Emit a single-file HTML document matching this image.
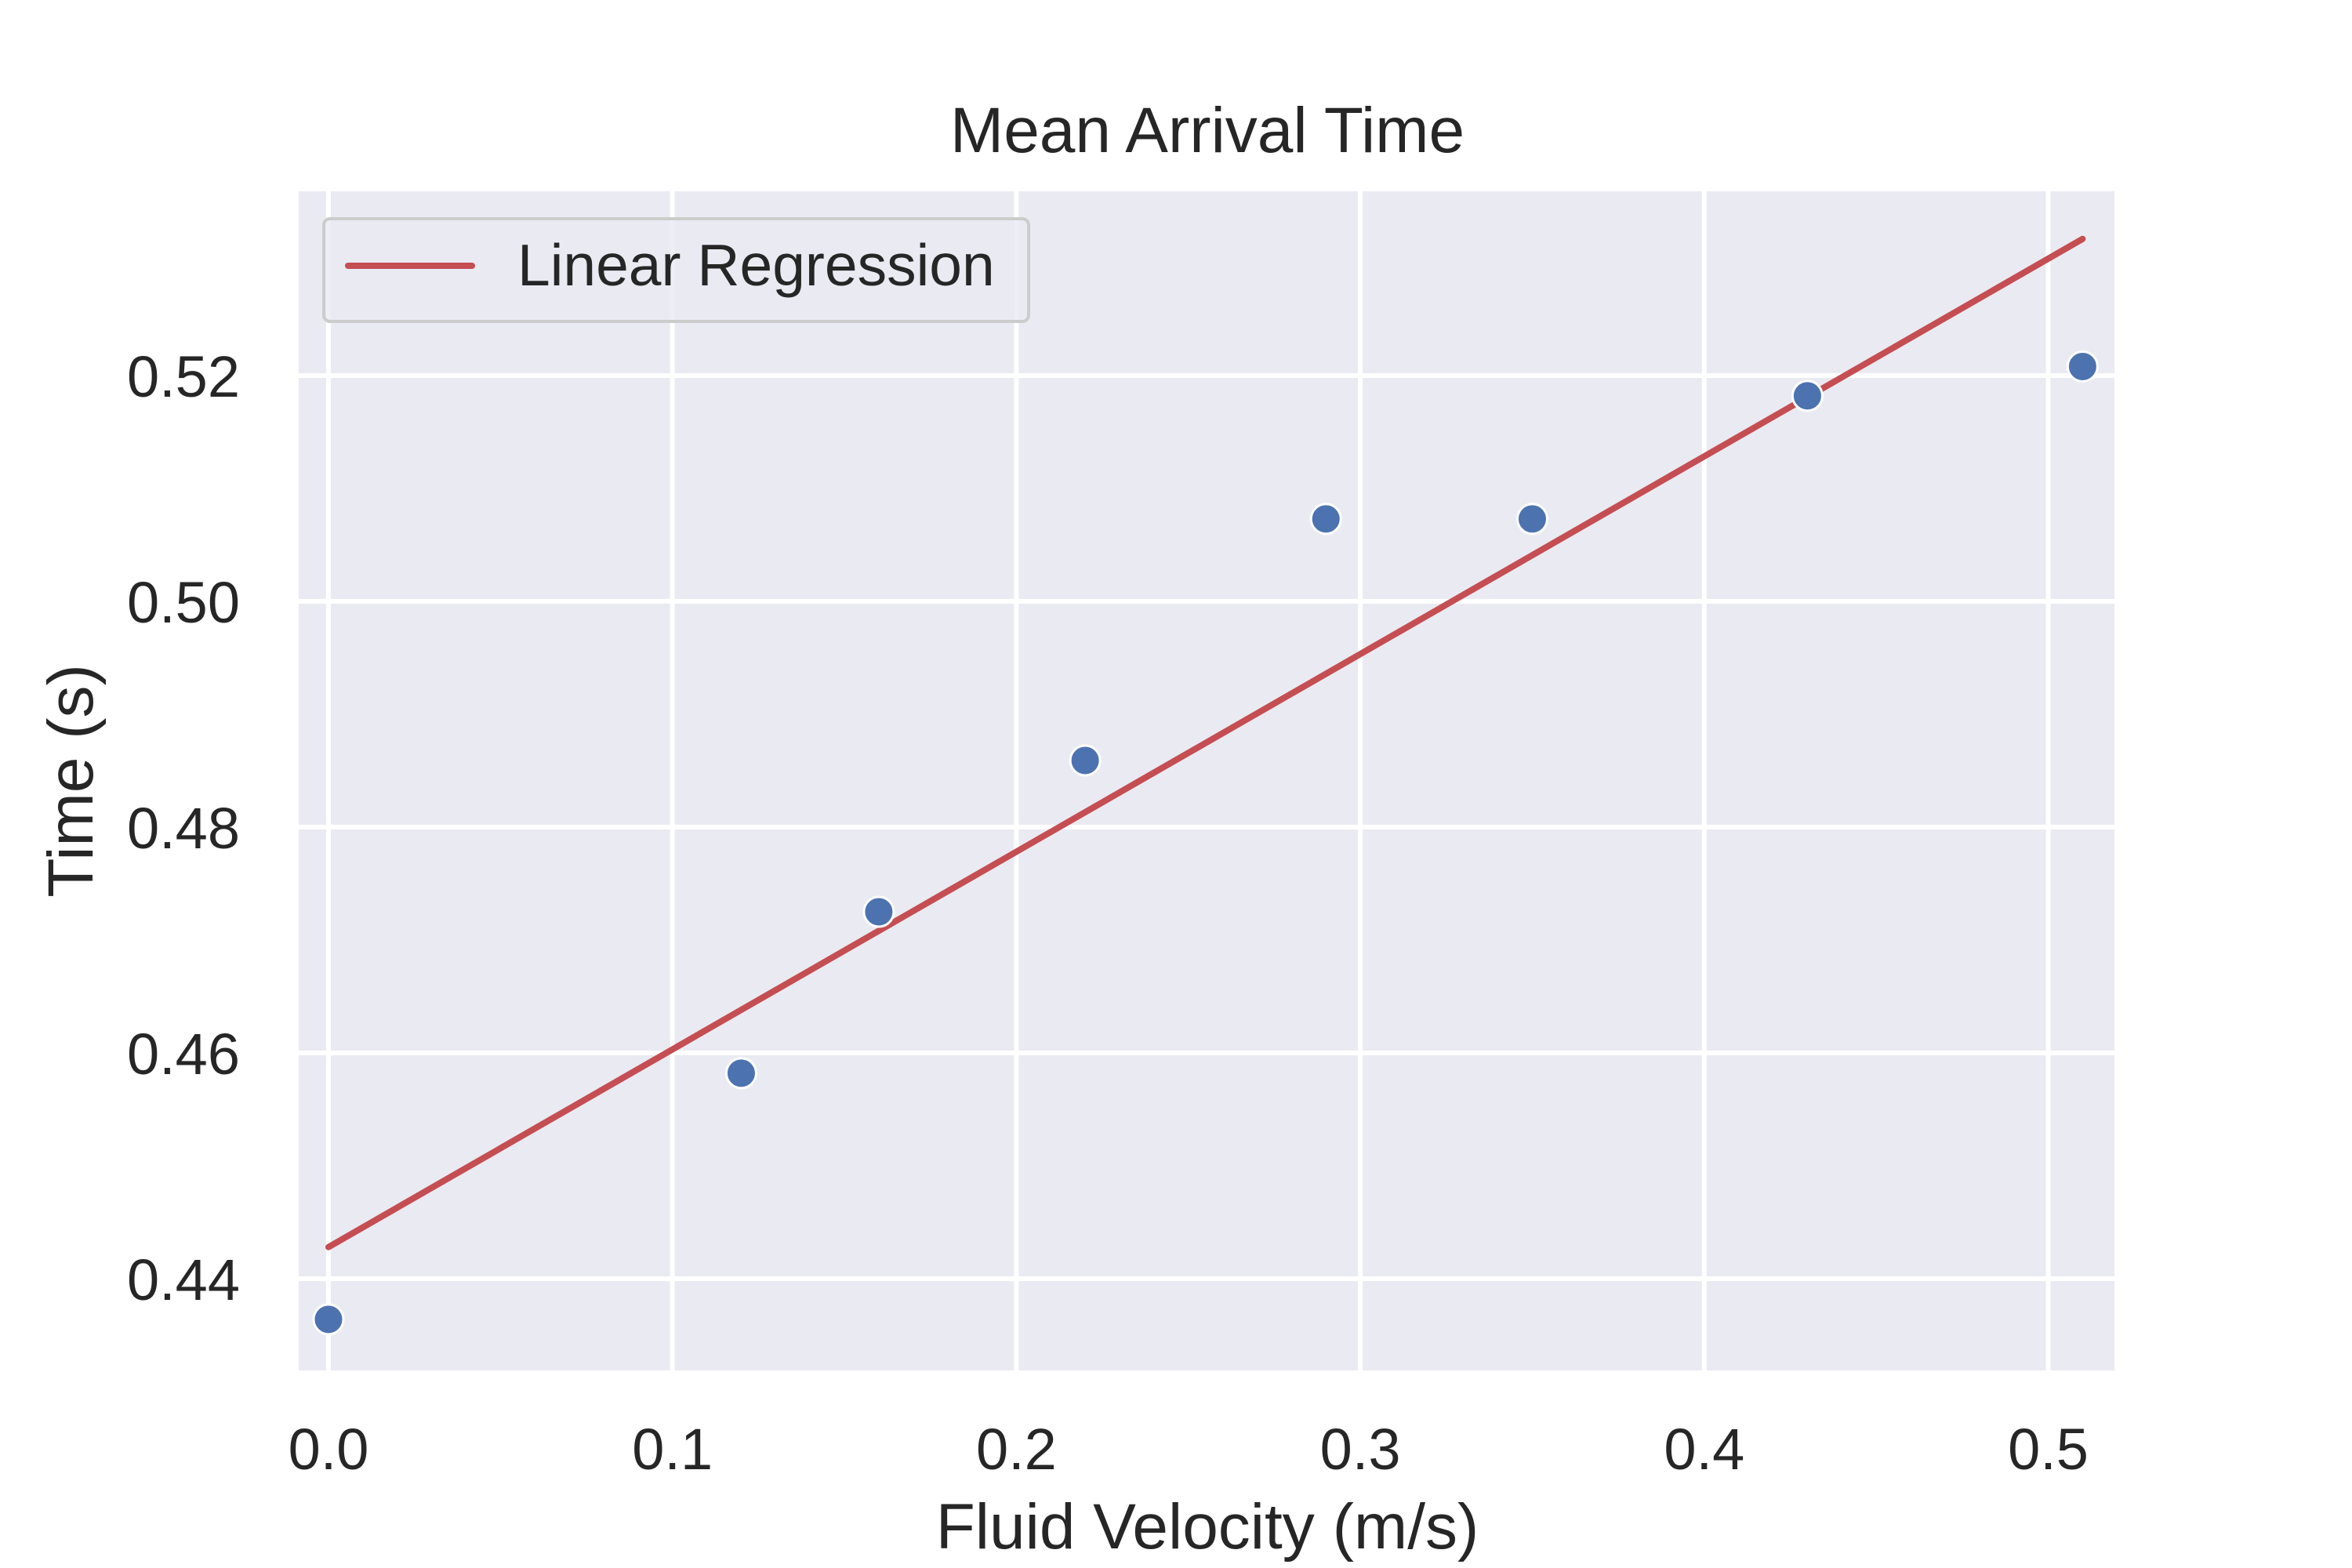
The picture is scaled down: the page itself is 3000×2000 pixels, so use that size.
<!DOCTYPE html>
<html><head><meta charset="utf-8"><style>
html,body{margin:0;padding:0;background:#fff;}
svg{display:block;font-family:"Liberation Sans",Arial,sans-serif;}
</style></head><body>
<svg id="chart" width="3000" height="2000" viewBox="0 0 3000 2000" xmlns="http://www.w3.org/2000/svg">
<rect x="381" y="244" width="2316" height="1504" fill="#EAEAF2"/>
<g id="grid"></g>
<g id="ticks"></g>
<g id="marks"></g>
<text x="1540" y="194" font-size="82" text-anchor="middle" fill="#262626">Mean Arrival Time</text>
<text x="1540" y="1975" font-size="82" text-anchor="middle" fill="#262626">Fluid Velocity (m/s)</text>
<text x="0" y="0" font-size="82" text-anchor="middle" fill="#262626" transform="translate(118,996) rotate(-90)">Time (s)</text>
<g>
<rect x="413" y="279" width="899" height="131" rx="8" fill="#EAEAF2" fill-opacity="0.8" stroke="#cccccc" stroke-width="4"/>
<line x1="444" y1="339" x2="602" y2="339" stroke="#C44E52" stroke-width="8" stroke-linecap="round"/>
<text x="660" y="364" font-size="75" fill="#262626">Linear Regression</text>
</g>
</svg>
<script>
const xTicks=[0.0,0.1,0.2,0.3,0.4,0.5];
const xTickLabels=["0.0","0.1","0.2","0.3","0.4","0.5"];
const yTicks=[0.44,0.46,0.48,0.50,0.52];
const yTickLabels=["0.44","0.46","0.48","0.50","0.52"];
const velocity=[0,0.12,0.16,0.22,0.29,0.35,0.43,0.51];
const arrivalTime=[0.4364,0.4582,0.4725,0.4859,0.5073,0.5073,0.5182,0.5208];
const regX=[0,0.51];
const regY=[0.4428,0.5321];

const X0=419,XS=4387,Y0=1631,YS=14400;
function sx(v){return X0+(v-0)*XS;}
function sy(v){return Y0-(v-0.44)*YS;}
const NS="http://www.w3.org/2000/svg";
const grid=document.getElementById('grid'),ticks=document.getElementById('ticks'),marks=document.getElementById('marks');
function mk(tag,attrs,parent){const e=document.createElementNS(NS,tag);for(const k in attrs)e.setAttribute(k,attrs[k]);parent.appendChild(e);return e;}
xTicks.forEach((t,i)=>{
  const l=mk('line',{x1:sx(t),x2:sx(t),y1:244,y2:1748,stroke:'#fff','stroke-width':6},grid);
  
  
  const tx=mk('text',{x:sx(t),y:1874,'font-size':74,'text-anchor':'middle',fill:'#262626'},ticks);
  tx.textContent=xTickLabels[i];
  
  
});
yTicks.forEach((t,i)=>{
  const l=mk('line',{x1:381,x2:2697,y1:sy(t),y2:sy(t),stroke:'#fff','stroke-width':6},grid);
  
  
  const tx=mk('text',{x:306,y:sy(t)+27,'font-size':74,'text-anchor':'end',fill:'#262626'},ticks);
  tx.textContent=yTickLabels[i];
  
  
});
const rl=mk('line',{x1:sx(regX[0]),y1:sy(regY[0]),x2:sx(regX[1]),y2:sy(regY[1]),stroke:'#C44E52','stroke-width':8,'stroke-linecap':'round'},marks);


velocity.forEach((v,i)=>{
  const c=mk('circle',{cx:sx(v),cy:sy(arrivalTime[i]),r:19,fill:'#4C72B0',stroke:'#fff','stroke-width':3},marks);
  
  
});
</script>
</body></html>
